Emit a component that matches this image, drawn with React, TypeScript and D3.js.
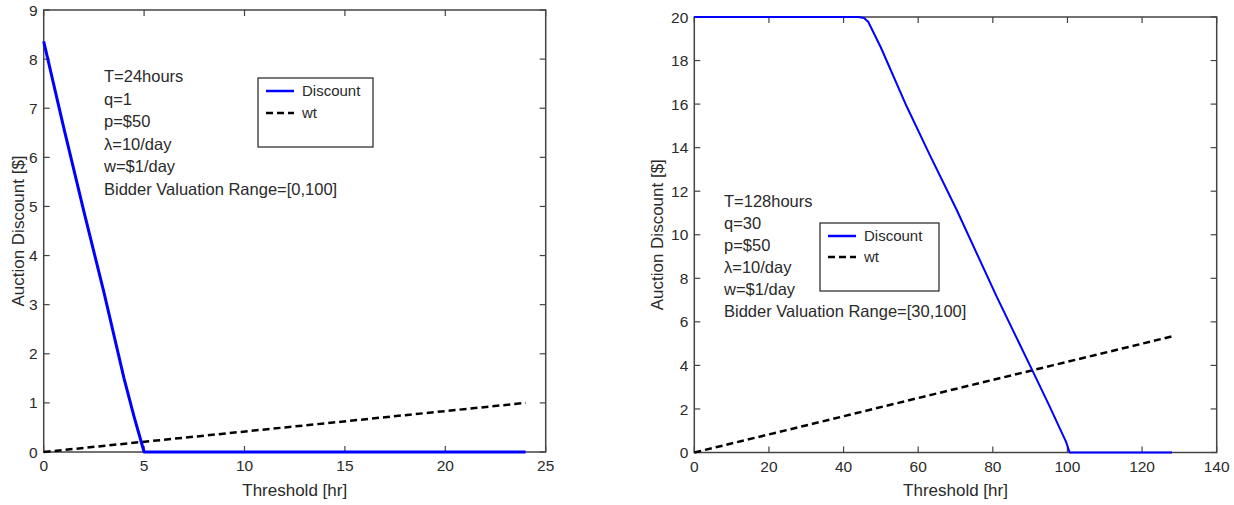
import React from "react";
import * as d3 from "d3";

// ---- Data ----
const leftDiscT = [0, 1, 2, 3, 4, 4.5, 5, 24];
const leftDisc = [8.36, 6.6, 4.9, 3.25, 1.5, 0.72, 0, 0];
const leftWtT = [0, 6, 12, 18, 24];
const leftWt = [0, 0.25, 0.5, 0.75, 1.0];
const leftXTicks = [0, 5, 10, 15, 20, 25];
const leftYTicks = [0, 1, 2, 3, 4, 5, 6, 7, 8, 9];
const leftNotes = ["T=24hours", "q=1", "p=$50", "λ=10/day", "w=$1/day", "Bidder Valuation Range=[0,100]"];

const rightDiscT = [0, 44, 45.5, 46.6, 50, 56.9, 63, 70.3, 81, 90.4, 95, 99.6, 100.6, 128];
const rightDisc = [20, 20, 19.95, 19.78, 18.6, 15.9, 13.7, 11.15, 7.17, 3.84, 2.2, 0.5, 0, 0];
const rightWtT = [0, 32, 64, 96, 128];
const rightWt = [0, 1.33, 2.67, 4.0, 5.33];
const rightXTicks = [0, 20, 40, 60, 80, 100, 120, 140];
const rightYTicks = [0, 2, 4, 6, 8, 10, 12, 14, 16, 18, 20];
const rightNotes = ["T=128hours", "q=30", "p=$50", "λ=10/day", "w=$1/day", "Bidder Valuation Range=[30,100]"];

const seriesNames = ["Discount", "wt"];
const xLabel = "Threshold [hr]";
const yLabel = "Auction Discount [$]";

const FONT = "Arial, 'Liberation Sans', sans-serif";
const TEXT = "#2a2a2a";
const AXIS = "#444";

type PanelProps = {
  x0: number; x1: number; y0: number; y1: number;
  xDomain: [number, number]; yDomain: [number, number];
  xTicks: number[]; yTicks: number[];
  discT: number[]; disc: number[]; wtT: number[]; wt: number[];
  notes: string[]; noteX: number; noteY: number; noteGap: number;
  legX: number; legY: number; legW: number; legH: number; legGap: number;
  yLabelX: number; discWidth: number;
};

function Panel(p: PanelProps) {
  const x = d3.scaleLinear().domain(p.xDomain).range([p.x0, p.x1]);
  const y = d3.scaleLinear().domain(p.yDomain).range([p.y0, p.y1]);
  const line = d3.line<[number, number]>().x((d) => x(d[0])).y((d) => y(d[1]));
  const discPts = p.discT.map((t, i) => [t, p.disc[i]] as [number, number]);
  const wtPts = p.wtT.map((t, i) => [t, p.wt[i]] as [number, number]);
  const tl = 6;
  return (
    <g>
      <rect x={p.x0} y={p.y1} width={p.x1 - p.x0} height={p.y0 - p.y1} fill="none" stroke={AXIS} strokeWidth={1.5} />
      {p.xTicks.map((t) => (
        <g key={"xt" + t}>
          <line x1={x(t)} x2={x(t)} y1={p.y0} y2={p.y0 - tl} stroke={AXIS} strokeWidth={1.2} />
          <line x1={x(t)} x2={x(t)} y1={p.y1} y2={p.y1 + tl} stroke={AXIS} strokeWidth={1.2} />
          <text x={x(t)} y={p.y0 + 19} textAnchor="middle" fontSize={15.5} fill={TEXT} fontFamily={FONT}>{t}</text>
        </g>
      ))}
      {p.yTicks.map((t) => (
        <g key={"yt" + t}>
          <line x1={p.x0} x2={p.x0 + tl} y1={y(t)} y2={y(t)} stroke={AXIS} strokeWidth={1.2} />
          <line x1={p.x1} x2={p.x1 - tl} y1={y(t)} y2={y(t)} stroke={AXIS} strokeWidth={1.2} />
          <text x={p.x0 - 6} y={y(t)} dy="0.36em" textAnchor="end" fontSize={15.5} fill={TEXT} fontFamily={FONT}>{t}</text>
        </g>
      ))}
      <path d={line(wtPts) || ""} fill="none" stroke="#000" strokeWidth={2.5} strokeDasharray="7,4" />
      <path d={line(discPts) || ""} fill="none" stroke="#0000ff" strokeWidth={p.discWidth} strokeLinejoin="round" />
      {p.notes.map((n, i) => (
        <text key={n} x={p.noteX} y={p.noteY + i * p.noteGap} fontSize={16.5} fill={TEXT} fontFamily={FONT}>{n}</text>
      ))}
      <rect x={p.legX} y={p.legY} width={p.legW} height={p.legH} fill="#fff" stroke="#222" strokeWidth={1.2} />
      <line x1={p.legX + 8} x2={p.legX + 36} y1={p.legY + 13} y2={p.legY + 13} stroke="#0000ff" strokeWidth={2.5} />
      <line x1={p.legX + 8} x2={p.legX + 36} y1={p.legY + 13 + p.legGap} y2={p.legY + 13 + p.legGap} stroke="#000" strokeWidth={2.5} strokeDasharray="7,4" />
      {seriesNames.map((s, i) => (
        <text key={s} x={p.legX + 44} y={p.legY + 13 + i * p.legGap} dy="0.36em" fontSize={15} fill={TEXT} fontFamily={FONT}>{s}</text>
      ))}
      <text x={(p.x0 + p.x1) / 2} y={496} textAnchor="middle" fontSize={17} fill={TEXT} fontFamily={FONT}>{xLabel}</text>
      <text transform={`translate(${p.yLabelX},${(p.y0 + p.y1) / 2}) rotate(-90)`} textAnchor="middle" fontSize={17} fill={TEXT} fontFamily={FONT}>{yLabel}</text>
    </g>
  );
}

export default function App() {
  return (
    <svg width={1234} height={505} style={{ position: "absolute", left: 0, top: 0, background: "#fff" }}>
      <rect width={1234} height={505} fill="#fff" />
      <Panel
        x0={43.7} x1={545.7} y0={452} y1={10}
        xDomain={[0, 25]} yDomain={[0, 9]}
        xTicks={leftXTicks} yTicks={leftYTicks}
        discT={leftDiscT} disc={leftDisc} wtT={leftWtT} wt={leftWt}
        notes={leftNotes} noteX={104} noteY={82} noteGap={22.5}
        legX={258} legY={78} legW={115} legH={69} legGap={22}
        yLabelX={24} discWidth={3}
      />
      <Panel
        x0={694.3} x1={1216.7} y0={452.5} y1={17}
        xDomain={[0, 140]} yDomain={[0, 20]}
        xTicks={rightXTicks} yTicks={rightYTicks}
        discT={rightDiscT} disc={rightDisc} wtT={rightWtT} wt={rightWt}
        notes={rightNotes} noteX={724} noteY={207} noteGap={22}
        legX={820} legY={223} legW={119} legH={68} legGap={21}
        yLabelX={663} discWidth={2}
      />
    </svg>
  );
}
